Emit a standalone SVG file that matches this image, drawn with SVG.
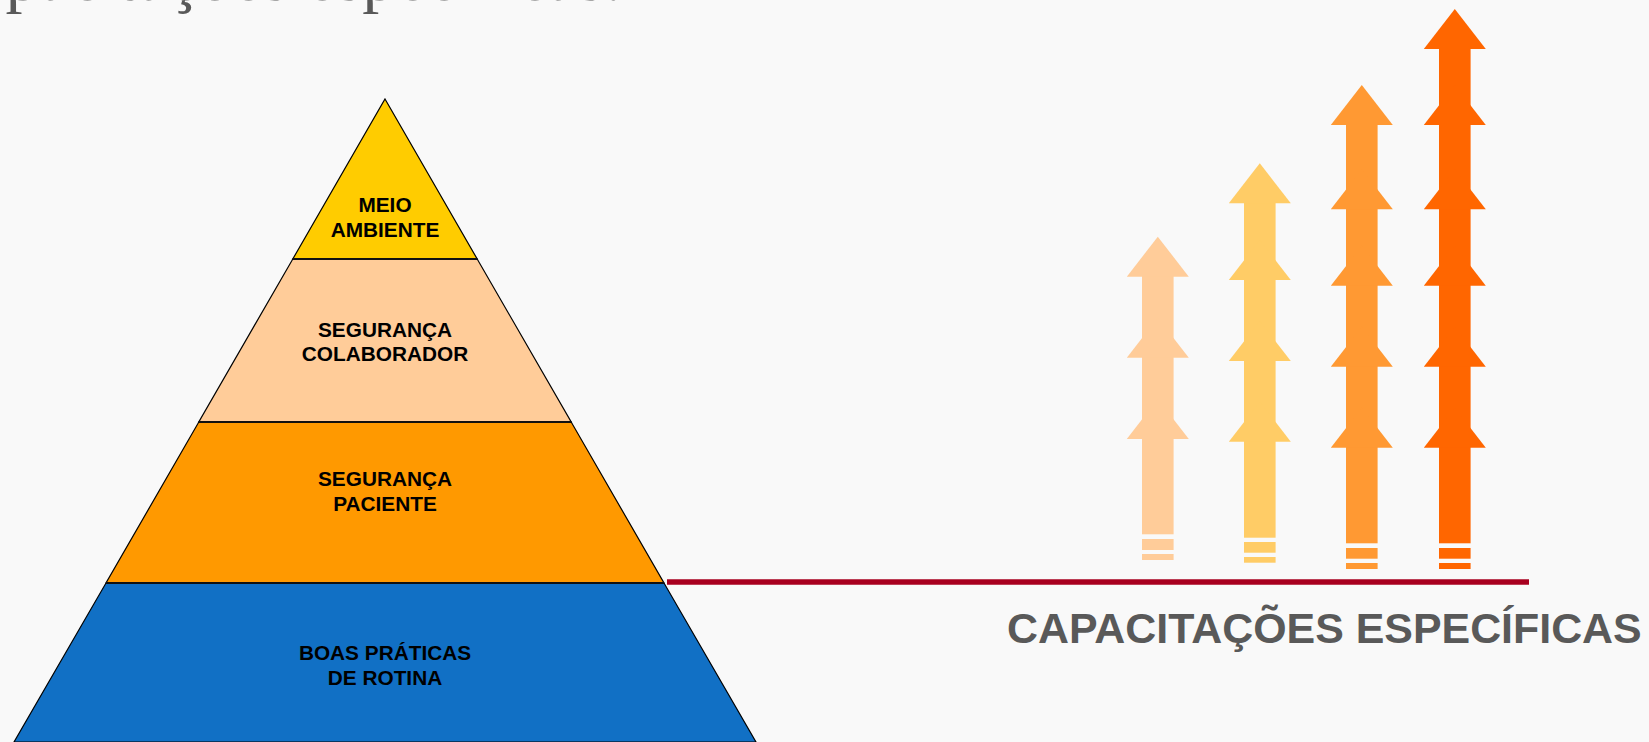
<svg xmlns="http://www.w3.org/2000/svg" xmlns:xlink="http://www.w3.org/1999/xlink" width="1649" height="742" viewBox="0 0 1649 742">
<style>
.lvl{stroke:#000;stroke-width:1.2;stroke-linejoin:miter}
.sep{stroke:#111;stroke-width:2}
.lbl{font-family:"Liberation Sans",Arial,sans-serif;font-weight:bold;font-size:20.8px;fill:#000;text-anchor:middle}
.cap{font-family:"Liberation Sans",Arial,sans-serif;font-weight:bold;font-size:42.9px;fill:#595959}
.title{font-family:"Liberation Serif","Times New Roman",serif;font-size:68px;fill:#595959}
.a1{fill:#FFCC99}.a2{fill:#FFCC66}.a3{fill:#FF9933}.a4{fill:#FF6600}
</style>
<defs>
<path id="hd" d="M0,-40 L31,0 L-31,0 Z"/>
</defs>
<rect width="1649" height="742" fill="#F9F9F9"/>
<text class="title" x="-70" y="0">Capacitações específicas:</text>

<g id="level-meio-ambiente">
<polygon class="lvl" points="385,99 477.2,259 292.8,259" fill="#FFCC00"/>
<text class="lbl" x="385" y="212">MEIO</text>
<text class="lbl" x="385" y="237">AMBIENTE</text>
</g>
<g id="level-seguranca-colaborador">
<polygon class="lvl" points="292.8,259 477.2,259 571.2,422 198.8,422" fill="#FFCC99"/>
<text class="lbl" x="385" y="337">SEGURANÇA</text>
<text class="lbl" x="385" y="361">COLABORADOR</text>
</g>
<g id="level-seguranca-paciente">
<polygon class="lvl" points="198.8,422 571.2,422 664,583 106,583" fill="#FF9900"/>
<text class="lbl" x="385" y="486">SEGURANÇA</text>
<text class="lbl" x="385" y="511">PACIENTE</text>
</g>
<g id="level-boas-praticas">
<polygon class="lvl" points="106,583 664,583 756,742 14,742" fill="#1170C5"/>
<text class="lbl" x="385" y="660">BOAS PRÁTICAS</text>
<text class="lbl" x="385" y="685">DE ROTINA</text>
</g>
<g id="separators">
<line class="sep" x1="292.8" y1="259" x2="477.2" y2="259"/>
<line class="sep" x1="198.8" y1="422" x2="571.2" y2="422"/>
<line class="sep" x1="106" y1="583" x2="664" y2="583"/>
</g>

<g id="arrow-1" class="a1">
<rect x="1142" y="276" width="31.6" height="258.3"/>
<use xlink:href="#hd" x="1157.8" y="276.7"/>
<use xlink:href="#hd" x="1157.8" y="357.7"/>
<use xlink:href="#hd" x="1157.8" y="439"/>
<rect x="1142" y="539" width="31.6" height="11"/>
<rect x="1142" y="554" width="31.6" height="6"/>
</g>
<g id="arrow-2" class="a2">
<rect x="1244" y="203" width="31.6" height="334.7"/>
<use xlink:href="#hd" x="1259.8" y="203.3"/>
<use xlink:href="#hd" x="1259.8" y="280"/>
<use xlink:href="#hd" x="1259.8" y="361"/>
<use xlink:href="#hd" x="1259.8" y="441.7"/>
<rect x="1244" y="542" width="31.6" height="10.7"/>
<rect x="1244" y="557" width="31.6" height="5.7"/>
</g>
<g id="arrow-3" class="a3">
<rect x="1346" y="124" width="31.6" height="419.3"/>
<use xlink:href="#hd" x="1361.8" y="125"/>
<use xlink:href="#hd" x="1361.8" y="209.3"/>
<use xlink:href="#hd" x="1361.8" y="285.7"/>
<use xlink:href="#hd" x="1361.8" y="366.7"/>
<use xlink:href="#hd" x="1361.8" y="447.7"/>
<rect x="1346" y="548" width="31.6" height="10.7"/>
<rect x="1346" y="563" width="31.6" height="6"/>
</g>
<g id="arrow-4" class="a4">
<rect x="1439" y="48" width="31.6" height="495.3"/>
<use xlink:href="#hd" x="1454.8" y="49"/>
<use xlink:href="#hd" x="1454.8" y="125"/>
<use xlink:href="#hd" x="1454.8" y="209.3"/>
<use xlink:href="#hd" x="1454.8" y="285.7"/>
<use xlink:href="#hd" x="1454.8" y="366.7"/>
<use xlink:href="#hd" x="1454.8" y="447.7"/>
<rect x="1439" y="548" width="31.6" height="10.7"/>
<rect x="1439" y="563" width="31.6" height="6"/>
</g>

<g id="connectors">
<line x1="667" y1="582" x2="1529" y2="582" stroke="#A8001F" stroke-width="5.5"/>
</g>
<g id="caption">
<text class="cap" x="1007" y="643">CAPACITAÇÕES ESPECÍFICAS</text>
</g>
</svg>
